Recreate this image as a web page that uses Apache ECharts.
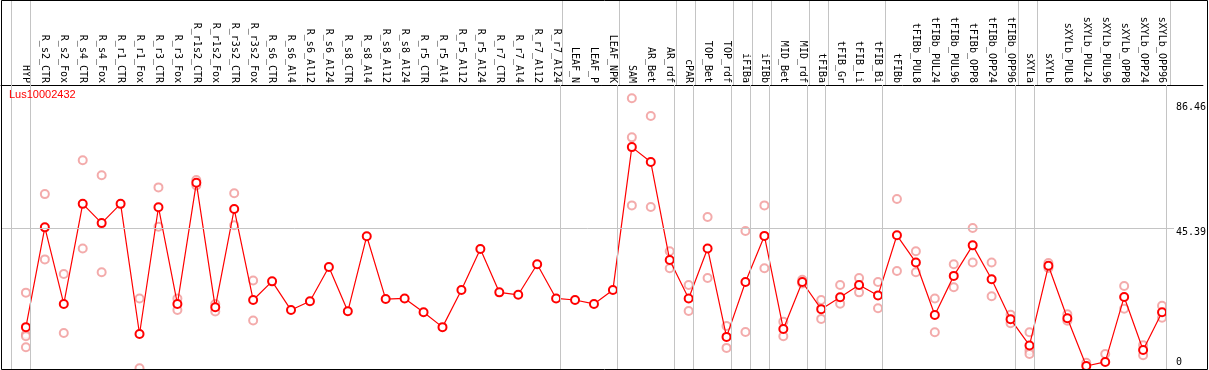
<!DOCTYPE html>
<html><head><meta charset="utf-8">
<script src="https://cdn.jsdelivr.net/npm/echarts@6/dist/echarts.min.js"></script>
<style>html,body{margin:0;padding:0;background:#fff}#c{width:1209px;height:370px}</style>
</head><body><div id="c"></div>
<script>
const geneName = 'Lus10002432';
const categories = ['HYP','R_s2_CTR','R_s2_Fox','R_s4_CTR','R_s4_Fox','R_r1_CTR','R_r1_Fox','R_r3_CTR','R_r3_Fox','R_r1s2_CTR','R_r1s2_Fox','R_r3s2_CTR','R_r3s2_Fox','R_s6_CTR','R_s6_Al4','R_s6_Al12','R_s6_Al24','R_s8_CTR','R_s8_Al4','R_s8_Al12','R_s8_Al24','R_r5_CTR','R_r5_Al4','R_r5_Al12','R_r5_Al24','R_r7_CTR','R_r7_Al4','R_r7_Al12','R_r7_Al24','LEAF_N','LEAF_P','LEAF_NPK','SAM','AR_Bet','AR_rdf','cPAR','TOP_Bet','TOP_rdf','iFIBa','iFIBb','MID_Bet','MID_rdf','tFIBa','tFIB_Gr','tFIB_Li','tFIB_Bi','tFIBb','tFIBb_PUL8','tFIBb_PUL24','tFIBb_PUL96','tFIBb_OPP8','tFIBb_OPP24','tFIBb_OPP96','sXYLa','sXYLb','sXYLb_PUL8','sXYLb_PUL24','sXYLb_PUL96','sXYLb_OPP8','sXYLb_OPP24','sXYLb_OPP96'];
const means = [13.0,45.7,20.6,53.4,47.1,53.4,10.75,52.3,20.6,60.3,19.5,51.7,21.9,28.0,18.6,21.5,32.7,18.2,42.8,22.2,22.4,17.9,13.0,25.2,38.6,24.4,23.6,33.6,22.4,21.9,20.6,25.2,72.0,67.1,35.0,22.4,38.8,9.8,27.8,42.9,12.4,27.8,18.9,22.8,26.8,23.4,43.1,34.2,17.0,29.8,39.8,28.7,15.6,7.0,33.1,15.9,0.26,1.6,22.9,5.5,17.9];
const replicates = [
  [24.3,10.6,10.0,6.4],[56.6,35.2],[30.4,11.1],[67.7,38.8],[62.8,31.0],[],[22.4,-0.5],[58.8,45.9],[22.4,18.6],[61.2,59.4],
  [20.6,18.1],[56.9,46.4],[28.3,15.2],[],[],[],[],[],[],[],
  [],[],[],[],[],[],[],[],[],[],
  [],[],[88.0,75.2,52.9],[82.2,52.4],[37.9,32.3],[26.8,18.3],[49.1,29.1],[13.4,6.2],[44.5,11.4],[52.9,32.3],
  [14.8,10.0],[28.5,27.3],[21.9,15.7],[26.8,20.7],[29.1,24.4],[27.8,19.2],[55.0,31.4],[37.9,31.0],[22.4,11.3],[33.6,26.1],
  [45.5,34.2],[34.2,23.1],[17.1,14.3],[11.3,5.3,4.2],[34.0,32.4],[17.2,15.1],[1.3,-0.8],[4.2,-0.8],[26.5,19.0],[7.1,3.8],
  [20.0,16.1]
];
const groupEnds = ['HYP','R_r7_Al24','LEAF_NPK','AR_rdf','cPAR','TOP_rdf','iFIBa','iFIBb','MID_rdf','tFIBa','tFIB_Bi','tFIBb_OPP96','sXYLa','sXYLb_OPP96'];
const yTickLabels = [45.39, 86.46];
const yZeroLabel = [0];
const refLine = 45.39;

const X_MIN = -25/19, X_MAX = 1181/19, REF_END = 1152/19;
const Y_MIN = -0.72, Y_MAX = 92.36;
const SEP_OFF = 0.237;

const sepValues = [-1].concat(groupEnds.map(n => categories.indexOf(n))).map(i => i + SEP_OFF);
const repData = [];
replicates.forEach((arr, i) => arr.forEach(v => repData.push([i, v])));
const meanData = means.map((v, i) => [i, v]);

const mono = 'DejaVu Sans Mono';
const sepLine = { silent: true, symbol: 'none', label: { show: false },
  lineStyle: { color: '#c4c4c4', width: 1, type: 'solid' }, animation: false };

const chart = echarts.init(document.getElementById('c'), null, { renderer: 'canvas' });
chart.setOption({
  animation: false,
  backgroundColor: '#fff',
  title: { text: geneName, left: 9, top: 89, padding: 0,
    textStyle: { color: '#ff0000', fontSize: 11, fontFamily: 'Liberation Sans', fontWeight: 'normal' } },
  grid: [
    { left: 1, top: 85, width: 1206, height: 284 },
    { left: 1, top: 0, width: 1206, height: 85 }
  ],
  xAxis: [
    { gridIndex: 0, type: 'value', position: 'top', min: X_MIN, max: X_MAX,
      axisLine: { show: true, onZero: false, lineStyle: { color: '#000', width: 1 } },
      axisTick: { show: false }, splitLine: { show: false },
      axisLabel: { customValues: categories.map((c, i) => i),
        formatter: v => categories[Math.round(v)] || '',
        rotate: 90, margin: 2, fontFamily: mono, fontSize: 10, color: '#000' } },
    { gridIndex: 1, type: 'value', min: X_MIN, max: X_MAX, show: false }
  ],
  yAxis: [
    { gridIndex: 0, type: 'value', position: 'right', min: Y_MIN, max: Y_MAX,
      axisLine: { show: false }, axisTick: { show: false }, splitLine: { show: false },
      axisLabel: { inside: true, customValues: yTickLabels, formatter: v => String(v),
        align: 'left', margin: 27, verticalAlign: 'top', lineHeight: 8,
        fontFamily: mono, fontSize: 10, color: '#000' } },
    { gridIndex: 0, type: 'value', position: 'right', min: Y_MIN, max: Y_MAX,
      axisLine: { show: false }, axisTick: { show: false }, splitLine: { show: false },
      axisLabel: { inside: true, customValues: yZeroLabel, formatter: v => String(v),
        align: 'left', margin: 27, verticalAlign: 'bottom', lineHeight: 8,
        fontFamily: mono, fontSize: 10, color: '#000' } },
    { gridIndex: 1, type: 'value', min: 0, max: 1, show: false }
  ],
  series: [
    { type: 'line', xAxisIndex: 0, yAxisIndex: 0, data: [], z: 1, silent: true,
      markLine: Object.assign({}, sepLine, {
        data: sepValues.map(v => ({ xAxis: v })).concat([
          [{ coord: [X_MIN, refLine] }, { coord: [REF_END, refLine] }]
        ]) }) },
    { type: 'line', xAxisIndex: 1, yAxisIndex: 2, data: [], z: 1, silent: true,
      markLine: Object.assign({}, sepLine, { data: sepValues.map(v => ({ xAxis: v })) }) },
    { type: 'scatter', xAxisIndex: 0, yAxisIndex: 0, data: repData, z: 2, silent: true,
      symbol: 'emptyCircle', symbolSize: 8,
      itemStyle: { color: '#f09696', borderColor: '#f09696', borderWidth: 1.2 } },
    { type: 'line', xAxisIndex: 0, yAxisIndex: 0, data: meanData, z: 3, silent: true,
      symbol: 'emptyCircle', symbolSize: 8, showAllSymbol: true,
      lineStyle: { color: '#ff0000', width: 1.2 },
      itemStyle: { color: '#ff0000', borderColor: '#ff0000', borderWidth: 1.6 } }
  ],
  graphic: [
    { type: 'rect', silent: true, z: 100,
      shape: { x: 1.5, y: 0.5, width: 1206, height: 369 },
      style: { fill: null, stroke: '#000', lineWidth: 1 } }
  ]
});
</script>
</body></html>
